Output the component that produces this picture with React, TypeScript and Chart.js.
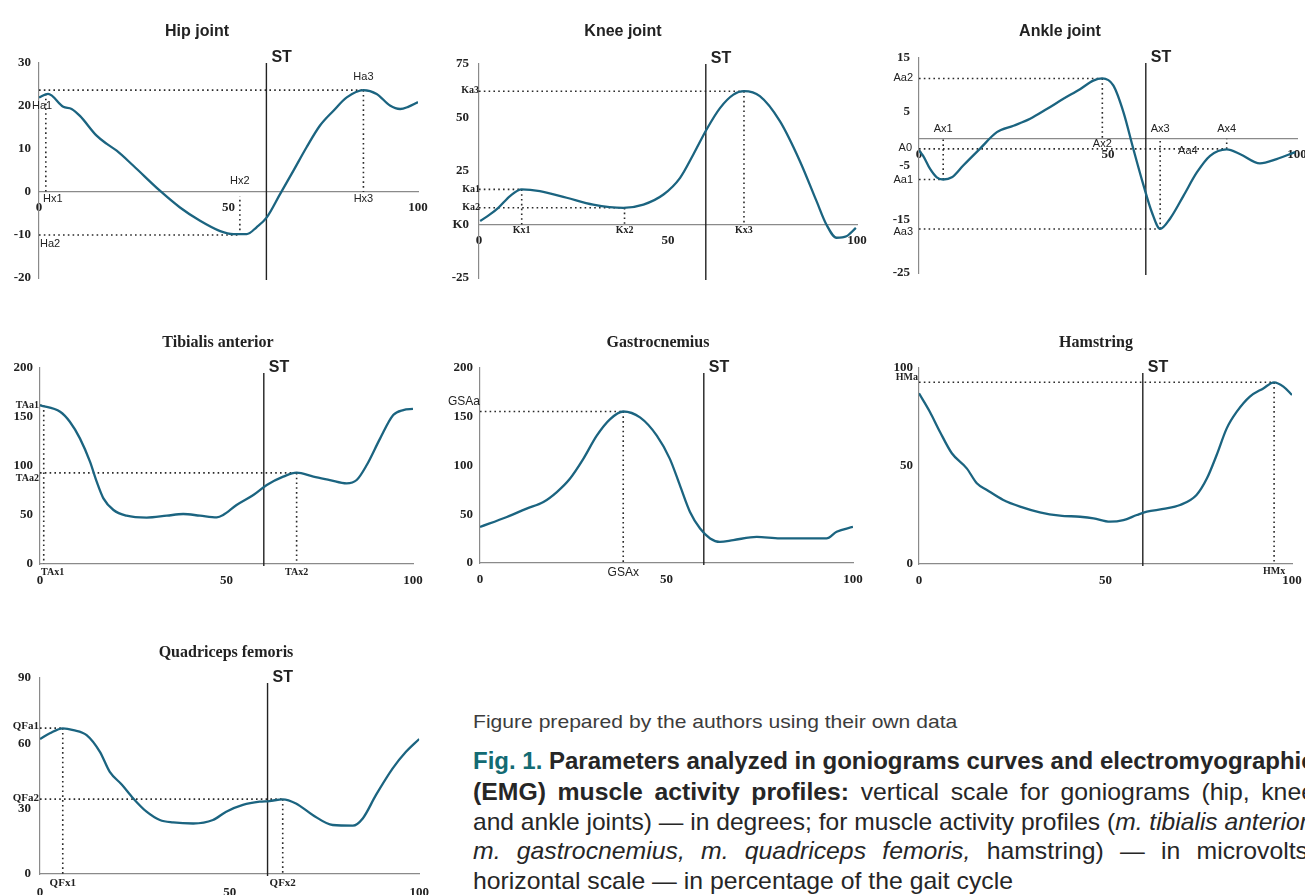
import React, { useEffect, useLayoutEffect, useRef } from 'react';
import { Chart, registerables } from 'chart.js';

Chart.register(...registerables);

// ---------------- data (gait cycle %, value) ----------------
const hipX = [0, 2.4, 6.4, 8.6, 10.8, 15.2, 17.9, 20.5, 24.9, 31.9, 37.2, 42.5, 47.8, 51.3, 54.8, 57.4, 60.1, 63.6, 67.1, 70.6, 74.1, 77.7, 81.2, 85.6, 89.1, 92.6, 95.3, 97.4, 100];
const hipY = [22.0, 22.8, 19.8, 19.3, 17.7, 13.1, 11.2, 9.6, 6.1, 0.3, -3.6, -6.7, -9.1, -9.8, -9.8, -8.2, -5.9, -0.5, 4.9, 10.4, 15.4, 18.9, 22.0, 23.7, 22.8, 20.1, 19.3, 19.8, 20.9];

const kneeX = [0.3, 2.9, 5.1, 8.2, 11.3, 16.1, 23.2, 30.2, 38.2, 43.5, 48.8, 53.2, 56.7, 60.2, 63.8, 67.3, 70.1, 74.3, 79.6, 84.9, 89.3, 91.9, 94.6, 97.2, 99.7];
const kneeY = [1.6, 4.7, 7.8, 13.3, 16.4, 15.6, 12.5, 9.3, 7.8, 9.3, 14.0, 21.8, 32.7, 44.4, 54.5, 60.7, 62.3, 60.0, 48.3, 29.6, 10.9, 0, -6.2, -5.5, -1.6];

const ankleX = [0, 1.1, 2.9, 4.7, 6.4, 8.7, 11.7, 16.1, 20.6, 25, 29.4, 33.8, 38.2, 42.6, 46.1, 48.5, 51.4, 54.1, 56.7, 59.4, 61.6, 63.8, 66.4, 70, 73.5, 77, 81.4, 85, 90.2, 94.6, 99.5];
const ankleY = [-2.2, -3.2, -5.6, -7.2, -7.6, -7.2, -5.0, -1.9, 1.2, 2.4, 3.7, 5.5, 7.4, 9.2, 10.8, 11.2, 9.9, 4.9, -1.9, -8.7, -13.7, -16.8, -14.9, -10.6, -6.3, -3.2, -2.0, -2.9, -4.6, -3.8, -2.5];

const tibX = [0, 5.4, 8, 10.7, 13.4, 15.2, 17, 19.7, 23.2, 28.6, 34, 38.4, 42.9, 47.4, 49.1, 52.7, 57.2, 60.8, 65.2, 68.8, 73.3, 77.7, 82.2, 84.9, 87.6, 91.2, 94.7, 97.4, 100];
const tibY = [162, 155.4, 145.2, 128.2, 104.4, 84, 67, 55.1, 49.3, 47.3, 49.3, 51, 49.3, 47.6, 50, 60.2, 70.4, 80.6, 89.1, 93.2, 89.1, 85.7, 82.3, 85.7, 101, 128.2, 152, 157.1, 158.2];

const gasX = [0, 7.2, 12.5, 17, 20.6, 24.1, 27.7, 31.3, 34.9, 38.4, 42.9, 47.4, 50.9, 53.6, 56.3, 59, 61.7, 64.3, 67.9, 74.2, 80.4, 87.5, 92.9, 95.6, 100];
const gasY = [37, 47.2, 55.8, 62.6, 72.8, 86.4, 106.8, 130.6, 147.6, 155.4, 149.3, 130.6, 106.8, 79.6, 52.4, 35.4, 25.2, 21.7, 23.5, 26.8, 25.2, 25.2, 25.2, 32, 37];

const hamX = [0, 2.9, 5.6, 8.8, 12.8, 15.5, 18.2, 22.6, 27.1, 32.4, 37.8, 43.2, 46.8, 51.2, 54.8, 58.4, 61.1, 65.5, 70, 74.4, 77.2, 79.8, 82.5, 85.2, 88.7, 92.3, 95.2, 97.7, 100];
const hamY = [87.1, 77.7, 67.5, 56.5, 48.8, 41.2, 37.8, 32.7, 29.3, 26.4, 24.7, 24.1, 23.3, 21.6, 22.4, 25, 26.7, 28.1, 30.1, 35.2, 43.7, 55.6, 69.2, 77.7, 85.4, 89.6, 92.7, 90.5, 86.2];

const quadX = [0, 2.6, 6, 8.8, 12.3, 15.8, 18.4, 21.6, 24.6, 28.1, 31.6, 35.1, 40.4, 45.6, 49.1, 53.5, 57.9, 60.5, 64, 67.5, 71.9, 77.2, 82.5, 85.1, 88.6, 93, 96.5, 100];
const quadY = [62, 64.6, 66.9, 66.1, 63.8, 56.1, 46.9, 41, 34.7, 28.6, 24.8, 23.7, 23.2, 24.8, 28.6, 31.7, 33.2, 33.5, 34.3, 32.4, 27.1, 22.5, 22.2, 25.5, 36.3, 48.5, 56.1, 62];

const stanceEnd = 60; // ST: end of stance phase, % of gait cycle

// key points (x = % gait cycle, y = value)
const hipKeyX = [1.8, 53, 85.6];
const hipKeyY = [22.8, -10, 23.7];
const kneeKeyX = [11.3, 38.5, 70.1];
const kneeKeyY = [16.4, 7.8, 62.3];
const ankleKeyX = [6.4, 48.5, 63.8, 81.4];
const ankleKeyY = [-7.6, 11.2, -16.8, -1.9];
const tibKeyX = [1, 68.8];
const tibKeyY = [162, 93];
const gasKeyX = [38.4];
const gasKeyY = [155.4];
const hamKeyX = [95.2];
const hamKeyY = [92.7];
const quadKeyX = [6, 64];
const quadKeyY = [67, 34.4];

// ---------------- styles ----------------
const SANS = '"Liberation Sans", Arial, Helvetica, sans-serif';
const SERIF = '"Liberation Serif", "Times New Roman", serif';
const fSans11 = `11px ${SANS}`;
const fSans12 = `12px ${SANS}`;
const fSerif10 = `bold 10px ${SERIF}`;
const fSerif11 = `bold 11px ${SERIF}`;
const CURVE = '#1b6480';
const AXIS = '#8a8a8a';
const TXT = '#222';

const PL = 45, PT = 24, PR = 20, PB = 30;

type Guide = { x: number; y: number; h: boolean; v: boolean; vTo?: number };
type Lbl = { t: string; x: number; y: number; dx: number; dy: number; a: CanvasTextAlign; f: string };

const g = (xs: number[], ys: number[], i: number, h = true, v = true, vTo = 0): Guide => ({ x: xs[i], y: ys[i], h, v, vTo });

const CHARTS = [
  {
    id: 'hip', title: 'Hip joint', titleFont: `bold 16px ${SANS}`, titleX: 197, titleY: 33,
    area: [39, 63, 418, 278], xs: hipX, ys: hipY, yMin: -20, yMax: 30, yStep: 10, yPad: 8, xPad: 8, stTop: 0,
    guides: [g(hipKeyX, hipKeyY, 0, false, true), g(hipKeyX, hipKeyY, 1, true, true, -1), g(hipKeyX, hipKeyY, 2)],
    labels: [
      { t: 'Ha1', x: 0, y: 20, dx: -7, dy: 0, a: 'left', f: fSans11 },
      { t: 'Hx1', x: 0, y: 0, dx: 4, dy: 7, a: 'left', f: fSans11 },
      { t: 'Ha2', x: 0, y: hipKeyY[1], dx: 1, dy: 9, a: 'left', f: fSans11 },
      { t: 'Hx2', x: hipKeyX[1], y: 0, dx: 0, dy: -11, a: 'center', f: fSans11 },
      { t: 'Hx3', x: hipKeyX[2], y: 0, dx: 0, dy: 7, a: 'center', f: fSans11 },
      { t: 'Ha3', x: hipKeyX[2], y: hipKeyY[2], dx: 0, dy: -13, a: 'center', f: fSans11 },
    ] as Lbl[],
  },
  {
    id: 'knee', title: 'Knee joint', titleFont: `bold 16px ${SANS}`, titleX: 623, titleY: 33,
    area: [479, 64, 857, 278], xs: kneeX, ys: kneeY, yMin: -25, yMax: 75, yStep: 25, yPad: 10, xPad: 8, stTop: 0, zeroLabel: 'K0',
    guides: [g(kneeKeyX, kneeKeyY, 0), g(kneeKeyX, kneeKeyY, 1), g(kneeKeyX, kneeKeyY, 2)],
    labels: [
      { t: 'Ka1', x: 0, y: kneeKeyY[0], dx: 1, dy: 0, a: 'right', f: fSerif10 },
      { t: 'Ka2', x: 0, y: kneeKeyY[1], dx: 1, dy: 0, a: 'right', f: fSerif10 },
      { t: 'Ka3', x: 0, y: kneeKeyY[2], dx: 0, dy: -1, a: 'right', f: fSerif10 },
      { t: 'Kx1', x: kneeKeyX[0], y: 0, dx: 0, dy: 6, a: 'center', f: fSerif10 },
      { t: 'Kx2', x: kneeKeyX[1], y: 0, dx: 0, dy: 6, a: 'center', f: fSerif10 },
      { t: 'Kx3', x: kneeKeyX[2], y: 0, dx: 0, dy: 6, a: 'center', f: fSerif10 },
    ] as Lbl[],
  },
  {
    id: 'ankle', title: 'Ankle joint', titleFont: `bold 16px ${SANS}`, titleX: 1060, titleY: 33,
    area: [919, 58, 1297, 273], xs: ankleX, ys: ankleY, yMin: -25, yMax: 15, yStep: 10, yPad: 9, xPad: 8, stTop: 5,
    guides: [g(ankleKeyX, ankleKeyY, 0), g(ankleKeyX, ankleKeyY, 1), g(ankleKeyX, ankleKeyY, 2), g(ankleKeyX, ankleKeyY, 3)],
    labels: [
      { t: 'Aa2', x: 0, y: ankleKeyY[1], dx: -6, dy: 0, a: 'right', f: fSans11 },
      { t: 'A0', x: 0, y: ankleKeyY[3], dx: -7, dy: -1, a: 'right', f: fSans11 },
      { t: 'Aa1', x: 0, y: ankleKeyY[0], dx: -6, dy: 0, a: 'right', f: fSans11 },
      { t: 'Aa3', x: 0, y: ankleKeyY[2], dx: -6, dy: 3, a: 'right', f: fSans11 },
      { t: 'Ax1', x: ankleKeyX[0], y: 0, dx: 0, dy: -10, a: 'center', f: fSans11 },
      { t: 'Ax2', x: ankleKeyX[1], y: 0, dx: 0, dy: 5, a: 'center', f: fSans11 },
      { t: 'Ax3', x: ankleKeyX[2], y: 0, dx: 0, dy: -10, a: 'center', f: fSans11 },
      { t: 'Ax4', x: ankleKeyX[3], y: 0, dx: 0, dy: -10, a: 'center', f: fSans11 },
      { t: 'Aa4', x: ankleKeyX[3], y: ankleKeyY[3], dx: -29, dy: 2, a: 'right', f: fSans11 },
    ] as Lbl[],
  },
  {
    id: 'tib', title: 'Tibialis anterior', titleFont: `bold 16px ${SERIF}`, titleX: 218, titleY: 344,
    area: [40, 368, 413, 564], xs: tibX, ys: tibY, yMin: 0, yMax: 200, yStep: 50, yPad: 7, xPad: 9, stTop: 5,
    guides: [g(tibKeyX, tibKeyY, 0), g(tibKeyX, tibKeyY, 1)],
    labels: [
      { t: 'TAa1', x: 0, y: tibKeyY[0], dx: -1, dy: 0, a: 'right', f: fSerif10 },
      { t: 'TAa2', x: 0, y: tibKeyY[1], dx: -1, dy: 6, a: 'right', f: fSerif10 },
      { t: 'TAx1', x: 0, y: 0, dx: 1, dy: 8, a: 'left', f: fSerif10 },
      { t: 'TAx2', x: tibKeyX[1], y: 0, dx: 0, dy: 8, a: 'center', f: fSerif10 },
    ] as Lbl[],
  },
  {
    id: 'gas', title: 'Gastrocnemius', titleFont: `bold 16px ${SERIF}`, titleX: 658, titleY: 344,
    area: [480, 368, 853, 563], xs: gasX, ys: gasY, yMin: 0, yMax: 200, yStep: 50, yPad: 7, xPad: 9, stTop: 5,
    guides: [g(gasKeyX, gasKeyY, 0)],
    labels: [
      { t: 'GSAa', x: 0, y: gasKeyY[0], dx: -32, dy: -10, a: 'left', f: fSans12 },
      { t: 'GSAx', x: gasKeyX[0], y: 0, dx: 0, dy: 10, a: 'center', f: fSans12 },
    ] as Lbl[],
  },
  {
    id: 'ham', title: 'Hamstring', titleFont: `bold 16px ${SERIF}`, titleX: 1096, titleY: 344,
    area: [919, 368, 1292, 564], xs: hamX, ys: hamY, yMin: 0, yMax: 100, yStep: 50, yPad: 6, xPad: 9, stTop: 5,
    guides: [g(hamKeyX, hamKeyY, 0)],
    labels: [
      { t: 'HMa', x: 0, y: hamKeyY[0], dx: -1, dy: -5, a: 'right', f: fSerif10 },
      { t: 'HMx', x: hamKeyX[0], y: 0, dx: 0, dy: 7, a: 'center', f: fSerif10 },
    ] as Lbl[],
  },
  {
    id: 'quad', title: 'Quadriceps femoris', titleFont: `bold 16px ${SERIF}`, titleX: 226, titleY: 654,
    area: [40, 678, 420, 874], xs: quadX, ys: quadY, yMin: 0, yMax: 90, yStep: 30, yPad: 9, xPad: 11, stTop: 5,
    guides: [g(quadKeyX, quadKeyY, 0), g(quadKeyX, quadKeyY, 1)],
    labels: [
      { t: 'QFa1', x: 0, y: quadKeyY[0], dx: -1, dy: -2, a: 'right', f: fSerif11 },
      { t: 'QFa2', x: 0, y: quadKeyY[1], dx: -1, dy: -1, a: 'right', f: fSerif11 },
      { t: 'QFx1', x: quadKeyX[0], y: 0, dx: 0, dy: 9, a: 'center', f: fSerif11 },
      { t: 'QFx2', x: quadKeyX[1], y: 0, dx: 0, dy: 9, a: 'center', f: fSerif11 },
    ] as Lbl[],
  },
];

function guidesPlugin(cfg: any) {
  return {
    id: 'guides_' + cfg.id,
    beforeDatasetsDraw(chart: any) {
      const { ctx, chartArea } = chart;
      const xs = chart.scales.x, ys = chart.scales.y;
      ctx.save();
      ctx.strokeStyle = '#2a2a2a';
      ctx.lineWidth = 1.6;
      ctx.setLineDash([1.6, 3.2]);
      ctx.beginPath();
      for (const gd of cfg.guides as Guide[]) {
        const px = xs.getPixelForValue(gd.x), py = ys.getPixelForValue(gd.y);
        if (gd.h) { ctx.moveTo(xs.getPixelForValue(0), py); ctx.lineTo(px, py); }
        if (gd.v) { ctx.moveTo(px, py); ctx.lineTo(px, ys.getPixelForValue(gd.vTo ?? 0)); }
      }
      ctx.stroke();
      ctx.setLineDash([]);
      ctx.strokeStyle = '#222';
      ctx.lineWidth = 1.4;
      const sx = xs.getPixelForValue(stanceEnd);
      ctx.beginPath();
      ctx.moveTo(sx, chartArea.top + cfg.stTop);
      ctx.lineTo(sx, chartArea.bottom + 2);
      ctx.stroke();
      ctx.restore();
    },
    afterDraw(chart: any) {
      const { ctx, chartArea } = chart;
      const xs = chart.scales.x, ys = chart.scales.y;
      ctx.save();
      ctx.fillStyle = TXT;
      ctx.textBaseline = 'middle';
      for (const l of cfg.labels as Lbl[]) {
        ctx.font = l.f;
        ctx.textAlign = l.a;
        ctx.fillText(l.t, xs.getPixelForValue(l.x) + l.dx, ys.getPixelForValue(l.y) + l.dy);
      }
      ctx.font = `bold 16px ${SANS}`;
      ctx.textAlign = 'left';
      ctx.textBaseline = 'alphabetic';
      ctx.fillText('ST', xs.getPixelForValue(stanceEnd) + 5, chartArea.top + cfg.stTop - 1);
      ctx.restore();
    },
  };
}

function GaitChart({ cfg }: { cfg: any }) {
  const ref = useRef<HTMLCanvasElement>(null);
  const [L, T, R, B] = cfg.area;
  const w = R - L + PL + PR;
  const h = B - T + PT + PB;
  useEffect(() => {
    const tickFont = { family: SERIF, weight: 'bold' as const, size: 13 };
    const chart = new Chart(ref.current as HTMLCanvasElement, {
      type: 'line',
      data: {
        datasets: [{
          data: cfg.xs.map((x: number, i: number) => ({ x, y: cfg.ys[i] })),
          borderColor: CURVE,
          borderWidth: 2.3,
          pointRadius: 0,
          fill: false,
          cubicInterpolationMode: 'monotone',
        }],
      },
      options: {
        animation: false,
        responsive: false,
        maintainAspectRatio: false,
        devicePixelRatio: 1,
        layout: { padding: { left: 0, top: PT, right: PR, bottom: PB } },
        plugins: { legend: { display: false }, tooltip: { enabled: false }, title: { display: false } },
        scales: {
          x: {
            type: 'linear', min: 0, max: 100,
            position: { y: 0 } as any,
            grid: { display: false, drawTicks: false },
            border: { display: true, color: AXIS, width: 1.2 },
            ticks: { stepSize: 50, padding: cfg.xPad, font: tickFont, color: TXT, maxRotation: 0, autoSkip: false },
          },
          y: {
            type: 'linear', min: cfg.yMin, max: cfg.yMax,
            grid: { display: false, drawTicks: false },
            border: { display: true, color: AXIS, width: 1.2 },
            ticks: {
              stepSize: cfg.yStep, padding: cfg.yPad, font: tickFont, color: TXT,
              callback: (v: any) => (v === 0 && cfg.zeroLabel ? cfg.zeroLabel : String(v)),
            },
            afterFit: (s: any) => { s.width = PL; },
          },
        },
      } as any,
      plugins: [guidesPlugin(cfg)],
    });
    return () => chart.destroy();
  }, []);
  return (
    <canvas
      ref={ref}
      width={w}
      height={h}
      style={{ position: 'absolute', left: L - PL, top: T - PT, width: w, height: h }}
    />
  );
}

const CAP_TEAL = '#136b73';
const CAP_TXT = '#262626';
const CAP_LEFT = 473;
const capCenters = [723, 762, 793, 823, 852, 882];
const capTargets = [484, 842, 842, 842, 842, 540];
const capJustify = [false, true, true, true, true, false];

function Caption() {
  const refs = useRef<(HTMLSpanElement | null)[]>([]);
  useLayoutEffect(() => {
    const els = refs.current;
    els.forEach((el) => { if (el) { el.style.wordSpacing = '0px'; el.style.transform = 'none'; } });
    // common horizontal condensing taken from the last (unjustified) line of the paragraph
    const last = els[5];
    const sBody = last ? capTargets[5] / last.offsetWidth : 1;
    els.forEach((el, i) => {
      if (!el) return;
      const n = el.offsetWidth;
      const k = ((el.textContent || '').match(/ /g) || []).length;
      let s = capTargets[i] / n;
      let ws = 0;
      if (capJustify[i]) {
        if (n * sBody < capTargets[i] && k > 0) {
          s = sBody;
          ws = (capTargets[i] / sBody - n) / k;
        }
      }
      el.style.wordSpacing = ws + 'px';
      el.style.transform = `scaleX(${s})`;
    });
  }, []);
  const lineStyle = (i: number): React.CSSProperties => ({
    position: 'absolute', left: CAP_LEFT, top: capCenters[i] - 15, height: 30, lineHeight: '30px', whiteSpace: 'nowrap',
  });
  const spanStyle = (font: string, color: string): React.CSSProperties => ({
    display: 'inline-block', whiteSpace: 'nowrap', font, color, transformOrigin: 'left center',
  });
  const reg = `24px ${SANS}`;
  const bold = `bold 24px ${SANS}`;
  return (
    <>
      <div style={lineStyle(0)}>
        <span ref={(e) => { refs.current[0] = e; }} style={spanStyle(`19px ${SANS}`, '#3c3c3c')}>
          Figure prepared by the authors using their own data
        </span>
      </div>
      <div style={lineStyle(1)}>
        <span ref={(e) => { refs.current[1] = e; }} style={spanStyle(bold, CAP_TXT)}>
          <span style={{ color: CAP_TEAL }}>Fig. 1.</span> Parameters analyzed in goniograms curves and electromyographic
        </span>
      </div>
      <div style={lineStyle(2)}>
        <span ref={(e) => { refs.current[2] = e; }} style={spanStyle(reg, CAP_TXT)}>
          <b>(EMG) muscle activity profiles:</b> vertical scale for goniograms (hip, knee
        </span>
      </div>
      <div style={lineStyle(3)}>
        <span ref={(e) => { refs.current[3] = e; }} style={spanStyle(reg, CAP_TXT)}>
          and ankle joints) — in degrees; for muscle activity profiles (<i>m. tibialis anterior</i>,
        </span>
      </div>
      <div style={lineStyle(4)}>
        <span ref={(e) => { refs.current[4] = e; }} style={spanStyle(reg, CAP_TXT)}>
          <i>m. gastrocnemius, m. quadriceps femoris,</i> hamstring) — in microvolts;
        </span>
      </div>
      <div style={lineStyle(5)}>
        <span ref={(e) => { refs.current[5] = e; }} style={spanStyle(reg, CAP_TXT)}>
          horizontal scale — in percentage of the gait cycle
        </span>
      </div>
    </>
  );
}

export default function App() {
  return (
    <div style={{ position: 'fixed', left: 0, top: 0, width: 1305, height: 895, overflow: 'hidden', background: '#fff' }}>
      {CHARTS.map((c) => <GaitChart key={c.id} cfg={c} />)}
      {CHARTS.map((c) => (
        <div
          key={'t' + c.id}
          style={{
            position: 'absolute', left: c.titleX - 200, width: 400, top: c.titleY - 11, height: 22,
            lineHeight: '22px', textAlign: 'center', font: c.titleFont, color: TXT, whiteSpace: 'nowrap',
          }}
        >
          {c.title}
        </div>
      ))}
      <Caption />
    </div>
  );
}
